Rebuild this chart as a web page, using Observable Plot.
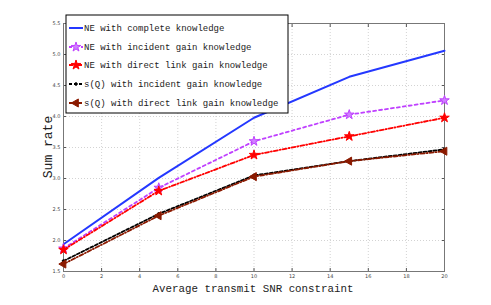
<!DOCTYPE html>
<html><head><meta charset="utf-8">
<script src="https://cdn.jsdelivr.net/npm/d3@7"></script>
<script src="https://cdn.jsdelivr.net/npm/@observablehq/plot@0.6"></script>
<style>body{margin:0;background:#fff}</style>
</head><body><div id="chart"></div>
<script>
const snr = [0, 5, 10, 15, 20];
const neComplete = [1.94, 3.01, 3.98, 4.64, 5.06];
const neIncident = [1.87, 2.85, 3.60, 4.03, 4.26];
const neDirect = [1.85, 2.80, 3.38, 3.68, 3.98];
const sqIncident = [1.67, 2.43, 3.05, 3.28, 3.47];
const sqDirect = [1.62, 2.40, 3.03, 3.28, 3.44];
const seriesNames = [
  "NE with complete knowledge",
  "NE with incident gain knowledge",
  "NE with direct link gain knowledge",
  "s(Q) with incident gain knowledge",
  "s(Q) with direct link gain knowledge"
];
const xTicks = [0,2,4,6,8,10,12,14,16,18,20];
const yTicks = [1.5,2,2.5,3,3.5,4,4.5,5,5.5];

const styles = [
  {color:"#2438ff", dash:null, width:2, symbol:null},
  {color:"#bf40ff", dash:"3,3", width:1.8, symbol:"star", fill:"#d080ff", r:3},
  {color:"#ff0000", dash:"4,2,1,2", width:1.8, symbol:"star", fill:"#ff0000", r:3},
  {color:"#000000", dash:"3,2", width:1.8, symbol:"circle", fill:"#000", r:1.3},
  {color:"#8b1a00", dash:"4,2,1,2", width:1.8, symbol:"triangle", fill:"#8b1a00", rotate:-90, r:3}
];
const allVals = [neComplete, neIncident, neDirect, sqIncident, sqDirect];
const data = allVals.map((vals,i)=>snr.map((x,j)=>({x, y: vals[j], s: i})));

const marks = [
  Plot.ruleX(xTicks, {stroke:"#c8c8c8", strokeDasharray:"1,2", strokeWidth:0.8}),
  Plot.ruleY(yTicks, {stroke:"#c8c8c8", strokeDasharray:"1,2", strokeWidth:0.8}),
  Plot.axisX(xTicks, {anchor:"bottom", tickSize:-3, tickPadding:6, fontSize:5, stroke:"#555", color:"#444", label:null}),
  Plot.axisX(xTicks, {anchor:"top", tickSize:-3, tickFormat:()=>"", stroke:"#555", label:null}),
  Plot.axisY(yTicks, {anchor:"left", tickSize:-3, tickPadding:6, fontSize:5, stroke:"#555", color:"#444", label:null}),
  Plot.axisY(yTicks, {anchor:"right", tickSize:-3, tickFormat:()=>"", stroke:"#555", label:null}),
  Plot.frame({stroke:"#777", strokeWidth:1})
];
data.forEach((d,i)=>{
  const st = styles[i];
  marks.push(Plot.line(d, {x:"x", y:"y", stroke:st.color, strokeWidth:st.width, strokeDasharray:st.dash}));
  if (st.symbol) marks.push(Plot.dot(d, {x:"x", y:"y", symbol:st.symbol, stroke:st.color, fill:st.fill, r:st.r, rotate:st.rotate ?? 0, strokeWidth:1}));
});

const plot = Plot.plot({
  width: 491, height: 305,
  marginLeft: 63, marginRight: 47, marginTop: 23, marginBottom: 34,
  x: {domain:[0,20]},
  y: {domain:[1.5,5.5]},
  style: {fontFamily:"DejaVu Sans"},
  marks
});

const svg = d3.select(plot);
// axis labels
svg.append("text").attr("x", 253).attr("y", 292).attr("text-anchor","middle")
  .attr("font-family","Liberation Mono").attr("font-size",10.8).attr("fill","#222")
  .text("Average transmit SNR constraint");
svg.append("text").attr("transform","translate(52,147) rotate(-90)").attr("text-anchor","middle")
  .attr("font-family","Liberation Mono").attr("font-size",13).attr("fill","#222")
  .text("Sum rate");

// legend
const lg = svg.append("g").attr("text-anchor","start");
lg.append("rect").attr("x",66).attr("y",15).attr("width",222).attr("height",98)
  .attr("fill","#fff").attr("stroke","#000").attr("stroke-width",1);
const rowY = [28, 47, 65, 84, 103];
seriesNames.forEach((name,i)=>{
  const st = styles[i];
  const y = rowY[i];
  lg.append("line").attr("x1",69).attr("x2",83).attr("y1",y).attr("y2",y)
    .attr("stroke",st.color).attr("stroke-width",st.width).attr("stroke-dasharray",st.dash);
  if (st.symbol) {
    const symMap = {star:d3.symbolStar, circle:d3.symbolCircle, triangle:d3.symbolTriangle};
    const r = st.r;
    lg.append("path").attr("d", d3.symbol(symMap[st.symbol], Math.PI*r*r)())
      .attr("transform",`translate(76,${y}) rotate(${st.rotate ?? 0})`)
      .attr("fill",st.fill).attr("stroke",st.color).attr("stroke-width",1);
  }
  lg.append("text").attr("x",84).attr("y",y).attr("dy","0.35em").attr("text-anchor","start")
    .attr("font-family","Liberation Mono").attr("font-size",9).attr("fill","#222").text(name);
});

document.getElementById("chart").appendChild(plot);
</script></body></html>
